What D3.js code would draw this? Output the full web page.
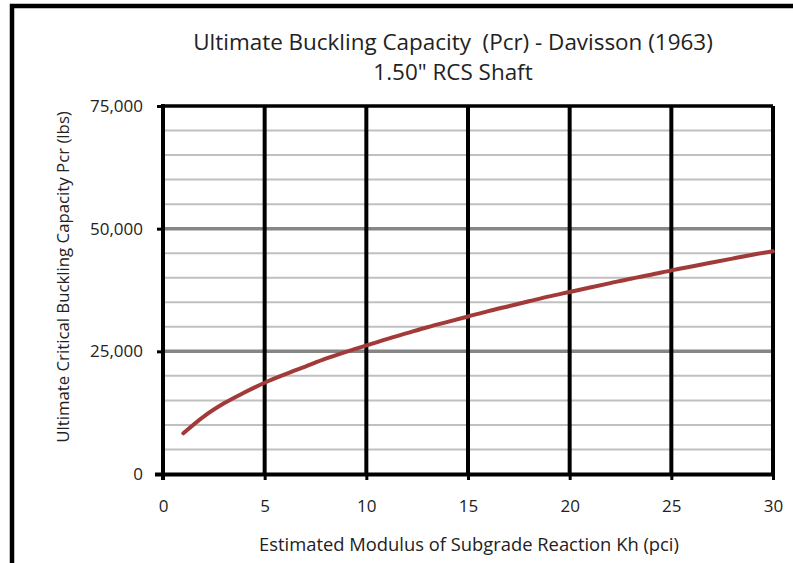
<!DOCTYPE html>
<html><head><meta charset="utf-8">
<script src="https://cdn.jsdelivr.net/npm/d3@7"></script>
<style>body{margin:0;background:#fff}svg{display:block}text{font-family:"Open Sans",sans-serif;fill:#222;white-space:pre}</style>
</head><body>
<script>
const kh = [1,2,3,4,5,6,7,8,9,10,11,12,13,14,15,16,17,18,19,20,21,22,23,24,25,26,27,28,29,30];
const pcr = [8300,11700,14400,16600,18600,20300,21900,23500,24900,26200,27500,28700,29900,31000,32100,33200,34200,35200,36200,37100,38000,38900,39800,40600,41500,42300,43100,43900,44700,45400];
const xTicks = [0,5,10,15,20,25,30];
const yTicks = [0,25000,50000,75000];
const yMinor = [5000,10000,15000,20000,30000,35000,40000,45000,55000,60000,65000,70000];
const titleLines = ["Ultimate Buckling Capacity  (Pcr) - Davisson (1963)", "1.50\" RCS Shaft"];
const xTitle = "Estimated Modulus of Subgrade Reaction Kh (pci)";
const yTitle = "Ultimate Critical Buckling Capacity Pcr (lbs)";

const W=793,H=563;
const svg=d3.select("body").append("svg").attr("width",W).attr("height",H);
const L=163,R=773,T=106,B=474;
const x=d3.scaleLinear().domain([0,30]).range([L,R]);
const y=d3.scaleLinear().domain([0,75000]).range([B,T]);

// outer frame
svg.append("path").attr("d",`M12,${H+5} V6 H${W+5}`).attr("fill","none").attr("stroke","#000").attr("stroke-width",4.5);

// minor gridlines
svg.append("g").selectAll("line").data(yMinor).join("line")
  .attr("x1",L).attr("x2",R).attr("y1",d=>y(d)).attr("y2",d=>y(d))
  .attr("stroke","#c0c0c0").attr("stroke-width",2);
// major gridlines
svg.append("g").selectAll("line").data(yTicks.filter(d=>d>0&&d<75000)).join("line")
  .attr("x1",L).attr("x2",R).attr("y1",d=>y(d)).attr("y2",d=>y(d))
  .attr("stroke","#868686").attr("stroke-width",3.5);
// top line
svg.append("line").attr("x1",L).attr("x2",R).attr("y1",y(75000)).attr("y2",y(75000)).attr("stroke","#000").attr("stroke-width",3.5);
// vertical gridlines
svg.append("g").selectAll("line").data(xTicks.filter(d=>d>0)).join("line")
  .attr("x1",d=>x(d)).attr("x2",d=>x(d)).attr("y1",T).attr("y2",B)
  .attr("stroke","#000").attr("stroke-width",4);

// axes
const xa=svg.append("g").attr("transform",`translate(0,${B})`)
  .call(d3.axisBottom(x).tickValues(xTicks).tickSize(6).tickPadding(20).tickFormat(d3.format("d")));
xa.select(".domain").attr("stroke","#000").attr("stroke-width",4).attr("d",`M${L-8},0.5H${R+2}`);
xa.selectAll(".tick line").attr("stroke","#000").attr("stroke-width",3);
xa.selectAll(".tick text").attr("font-size",17).attr("font-family","Open Sans").attr("fill","#222");

const ya=svg.append("g").attr("transform",`translate(${L},0)`)
  .call(d3.axisLeft(y).tickValues(yTicks).tickSize(6).tickPadding(14).tickFormat(d3.format(",")));
ya.select(".domain").attr("stroke","#000").attr("stroke-width",4).attr("d",`M0,${T-2}V${B+6}`);
ya.selectAll(".tick line").attr("stroke","#000").attr("stroke-width",3);
ya.selectAll(".tick text").attr("font-size",17).attr("font-family","Open Sans").attr("fill","#222");

// curve
svg.append("path").datum(kh.map((k,i)=>[k,pcr[i]]))
  .attr("d",d3.line().x(d=>x(d[0])).y(d=>y(d[1])).curve(d3.curveMonotoneX))
  .attr("fill","none").attr("stroke","#a33a3a").attr("stroke-width",4).attr("stroke-linecap","round");

// titles
function fit(sel,w){const n=sel.node();const cur=n.getComputedTextLength();const fs=+sel.attr("font-size");sel.attr("font-size",fs*w/cur);return sel;}
const t1=svg.append("text").attr("x",453).attr("y",50).attr("text-anchor","middle").attr("font-size",20).text(titleLines[0]);
fit(t1,520);
const t2=svg.append("text").attr("x",453).attr("y",80).attr("text-anchor","middle").attr("font-size",20).text(titleLines[1]);
t2.attr("font-size",t1.attr("font-size"));
const xt=svg.append("text").attr("x",469).attr("y",551).attr("text-anchor","middle").attr("font-size",16).text(xTitle);
fit(xt,420);
const yt=svg.append("text").attr("transform","translate(69,277) rotate(-90)").attr("text-anchor","middle").attr("font-size",16).text(yTitle);
fit(yt,332);
</script>
</body></html>
